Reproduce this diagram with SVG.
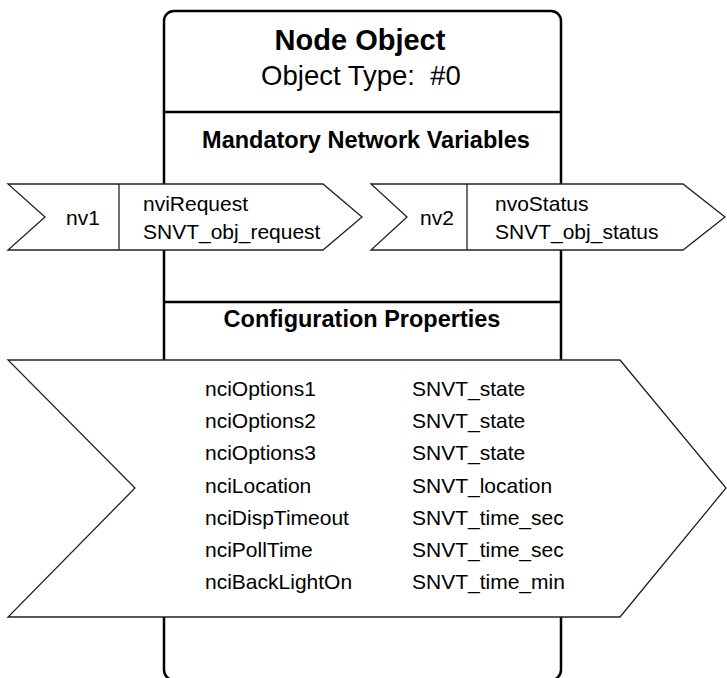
<svg xmlns="http://www.w3.org/2000/svg" width="727" height="678" viewBox="0 0 727 678">
  <style>
    .frame { fill: #ffffff; stroke: #000000; stroke-width: 2.5; }
    .rule { stroke: #000000; stroke-width: 2.5; }
    .tab { fill: #ffffff; stroke: #222222; stroke-width: 1.3; stroke-linejoin: miter; }
    .sep { stroke: #222222; stroke-width: 1.3; }
    text { font-family: "Liberation Sans", Arial, sans-serif; fill: #000000; }
    .title { font-size: 29px; font-weight: bold; text-anchor: middle; }
    .subtitle { font-size: 27.5px; text-anchor: middle; white-space: pre; }
    .heading { font-size: 23.5px; font-weight: bold; text-anchor: middle; }
    .label { font-size: 21px; }
  </style>

  <!-- object frame with its section dividers -->
  <g id="node-object">
    <rect class="frame" x="164" y="11" width="397" height="669" rx="10" ry="10"/>
    <line class="rule" x1="164" y1="112" x2="561" y2="112"/>
    <line class="rule" x1="164" y1="302" x2="561" y2="302"/>
    <text class="title" x="360" y="50">Node Object</text>
    <text class="subtitle" x="361" y="85" xml:space="preserve">Object Type:  #0</text>
    <text class="heading" x="366" y="148">Mandatory Network Variables</text>
    <text class="heading" x="362" y="327">Configuration Properties</text>
  </g>

  <g id="connectors"></g>

  <!-- input network variable -->
  <g id="nv1">
    <polygon class="tab" points="8,184 323,184 362,217 323,250 8,250 45,217"/>
    <line class="sep" x1="119" y1="184" x2="119" y2="250"/>
    <text class="label" x="66" y="225">nv1</text>
    <text class="label" x="143" y="211">nviRequest</text>
    <text class="label" x="143" y="239">SNVT_obj_request</text>
  </g>

  <!-- output network variable -->
  <g id="nv2">
    <polygon class="tab" points="371,184 683,184 725,217 683,250 371,250 407,217"/>
    <line class="sep" x1="467" y1="184" x2="467" y2="250"/>
    <text class="label" x="420" y="225">nv2</text>
    <text class="label" x="495" y="211">nvoStatus</text>
    <text class="label" x="495" y="239">SNVT_obj_status</text>
  </g>

  <!-- configuration property list -->
  <g id="config-properties">
    <polygon class="tab" points="8,360 620,360 726,488 620,617 8,617 135,488"/>
    <g class="label">
      <text class="label" x="205" y="396">nciOptions1</text>
      <text class="label" x="205" y="428">nciOptions2</text>
      <text class="label" x="205" y="460">nciOptions3</text>
      <text class="label" x="205" y="493">nciLocation</text>
      <text class="label" x="205" y="525">nciDispTimeout</text>
      <text class="label" x="205" y="557">nciPollTime</text>
      <text class="label" x="205" y="589">nciBackLightOn</text>
      <text class="label" x="412" y="396">SNVT_state</text>
      <text class="label" x="412" y="428">SNVT_state</text>
      <text class="label" x="412" y="460">SNVT_state</text>
      <text class="label" x="412" y="493">SNVT_location</text>
      <text class="label" x="412" y="525">SNVT_time_sec</text>
      <text class="label" x="412" y="557">SNVT_time_sec</text>
      <text class="label" x="412" y="589">SNVT_time_min</text>
    </g>
  </g>
</svg>
